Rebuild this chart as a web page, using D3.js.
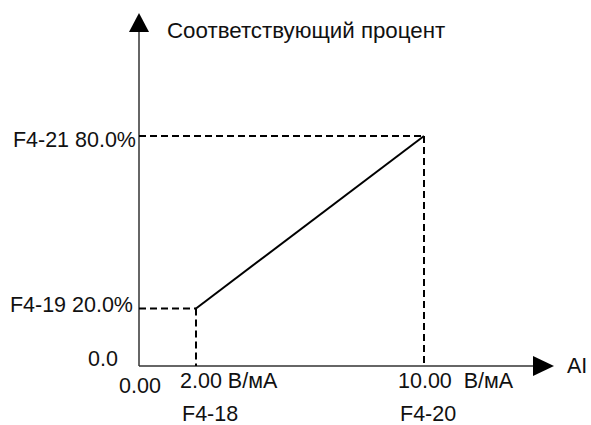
<!DOCTYPE html>
<html><head><meta charset="utf-8">
<script src="https://cdn.jsdelivr.net/npm/d3@7"></script>
<style>body{margin:0;background:#fff}svg{display:block}text{font-family:"Liberation Sans",Arial,sans-serif;fill:#111;white-space:pre}</style>
</head><body>
<script>
// data
const inputs = [2.00, 10.00];          // AI (В/мА)
const percents = [20.0, 80.0];          // corresponding percent
const inputLabels = ["2.00 В/мА", "10.00  В/мА"];
const inputCodes = ["F4-18", "F4-20"];
const percentLabels = ["F4-19 20.0%", "F4-21 80.0%"];
const originXLabel = "0.00";
const originYLabel = "0.0";
const yTitle = "Соответствующий процент";
const xTitle = "AI";

const W = 591, H = 425;
const svg = d3.select("body").append("svg").attr("width", W).attr("height", H);
const x = d3.scaleLinear().domain([0, 10]).range([139, 424]);
const y = d3.scaleLinear().domain([0, 80]).range([366, 136]);

const fs = 21.5;
// axes
svg.append("line").attr("x1", x(0)).attr("x2", 536).attr("y1", y(0)).attr("y2", y(0))
  .attr("stroke", "#333").attr("stroke-width", 1.5);
svg.append("line").attr("x1", x(0)).attr("x2", x(0)).attr("y1", y(0)).attr("y2", 30)
  .attr("stroke", "#333").attr("stroke-width", 1.5);
svg.append("path").attr("d", `M${x(0)},13 L${x(0)-10},32 L${x(0)+10},32 Z`).attr("fill", "#000");
svg.append("path").attr("d", `M554,${y(0)} L533,${y(0)-10} L533,${y(0)+10} Z`).attr("fill", "#000");

// dashed guides
const dash = "7,4";
inputs.forEach((v, i) => {
  svg.append("line").attr("x1", x(0)).attr("x2", x(v)).attr("y1", y(percents[i])).attr("y2", y(percents[i]))
    .attr("stroke", "#000").attr("stroke-width", 2).attr("stroke-dasharray", dash);
  svg.append("line").attr("x1", x(v)).attr("x2", x(v)).attr("y1", y(percents[i])).attr("y2", y(0))
    .attr("stroke", "#000").attr("stroke-width", 2).attr("stroke-dasharray", dash);
});

// main line
svg.append("path").datum(inputs.map((v, i) => [v, percents[i]]))
  .attr("d", d3.line().x(d => x(d[0])).y(d => y(d[1])))
  .attr("fill", "none").attr("stroke", "#000").attr("stroke-width", 2);

// labels
svg.append("text").attr("x", 167).attr("y", 38).attr("font-size", 22.3).text(yTitle);
svg.append("text").attr("x", 567).attr("y", 373).attr("font-size", fs).text(xTitle);
svg.append("text").attr("x", 118).attr("y", 366).attr("font-size", fs).attr("text-anchor", "end").text(originYLabel);
svg.append("text").attr("x", 119).attr("y", 393).attr("font-size", fs).text(originXLabel);
const pctOff = [3, 11];
percentLabels.forEach((t, i) => {
  svg.append("text").attr("x", x(0) - (i === 0 ? 6 : 3)).attr("y", y(percents[i]) + pctOff[i])
    .attr("font-size", fs).attr("text-anchor", "end").text(t);
});
const lblX = [180, 398];
inputLabels.forEach((t, i) => {
  svg.append("text").attr("x", lblX[i]).attr("y", 388).attr("font-size", fs).text(t);
  svg.append("text").attr("x", lblX[i] + 2).attr("y", 421).attr("font-size", fs).text(inputCodes[i]);
});
</script>
</body></html>
